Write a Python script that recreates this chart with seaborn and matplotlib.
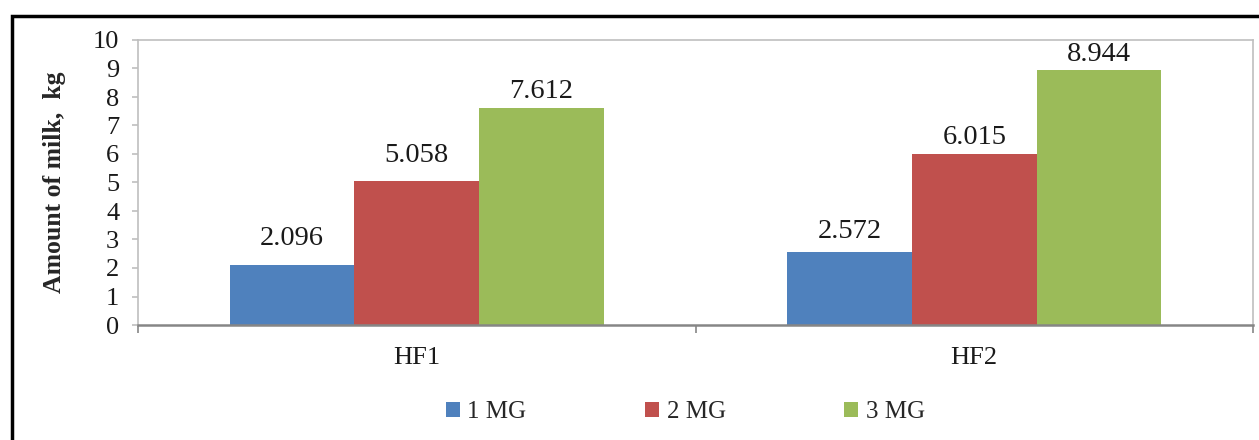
import matplotlib
matplotlib.use("Agg")
import matplotlib.pyplot as plt
from matplotlib.patches import Rectangle
import seaborn as sns
import pandas as pd

groups = ["HF1", "HF2"]
series = ["1 MG", "2 MG", "3 MG"]
mg1 = [2.096, 2.572]
mg2 = [5.058, 6.015]
mg3 = [7.612, 8.944]
colors = ["#4f81bd", "#c0504d", "#9bbb59"]

# gap (points) between each bar top and its value label, per series then group
label_gaps = [[10.5, 5.5], [9.5, 2.5], [3.0, 2.5]]

df = pd.DataFrame({
    "group": groups * 3,
    "series": [s for s in series for _ in groups],
    "value": mg1 + mg2 + mg3,
})

sns.set_theme(style="white")
plt.rcParams["font.family"] = ["Liberation Serif", "DejaVu Serif"]

fig = plt.figure(figsize=(12.59, 4.4), dpi=100)
ax = fig.add_axes([138 / 1259, 1 - 325 / 440, (1253 - 138) / 1259, (325 - 40) / 440])

sns.barplot(data=df, x="group", y="value", hue="series", hue_order=series,
            order=groups, palette=colors, width=0.67, saturation=1,
            edgecolor="none", ax=ax, legend=True)

for cont, gaps in zip(ax.containers, label_gaps):
    for bar, val, gap in zip(cont.patches, cont.datavalues, gaps):
        ax.annotate(f"{val:.3f}", xy=(bar.get_x() + bar.get_width() / 2, bar.get_height()),
                    xytext=(0, gap), textcoords="offset points", ha="center", va="bottom",
                    fontsize=20.5, color="#1a1a1a")

ax.set_ylim(0, 10)
ax.set_yticks(range(0, 11))
ax.set_xlim(-0.5, 1.5)
ax.set_xticks([-0.5, 0.5, 1.5], minor=True)
ax.tick_params(axis="x", which="major", length=0, pad=16, labelsize=19, colors="#1a1a1a")
ax.tick_params(axis="x", which="minor", length=6, width=1.2, color="#868686", bottom=True)
ax.tick_params(axis="y", length=4.5, width=1.2, color="#bfbfbf", labelsize=19,
               labelcolor="#1a1a1a", pad=9, left=True)
ax.set_xlabel("")
ax.set_ylabel("Amount of milk,  kg", fontsize=18.5, fontweight="bold", labelpad=19)

for side in ["top", "right", "left"]:
    ax.spines[side].set_color("#bfbfbf")
    ax.spines[side].set_linewidth(1.2)
ax.spines["bottom"].set_color("#868686")
ax.spines["bottom"].set_linewidth(1.8)

handles, labels = ax.get_legend_handles_labels()
ax.legend(handles, labels, loc="center", bbox_to_anchor=(0.491, 1 - (412 - 40) / 285),
          ncol=3, frameon=False, fontsize=18, handlelength=0.55, handleheight=0.55,
          handletextpad=0.3, columnspacing=4.75, borderaxespad=0)

fig.patches.append(Rectangle((12 / 1259, -0.1), 1.2, 1 - 16 / 440 + 0.1,
                             transform=fig.transFigure, fill=False,
                             edgecolor="black", linewidth=2.5, zorder=10))

fig.savefig("out.png", dpi=100)
